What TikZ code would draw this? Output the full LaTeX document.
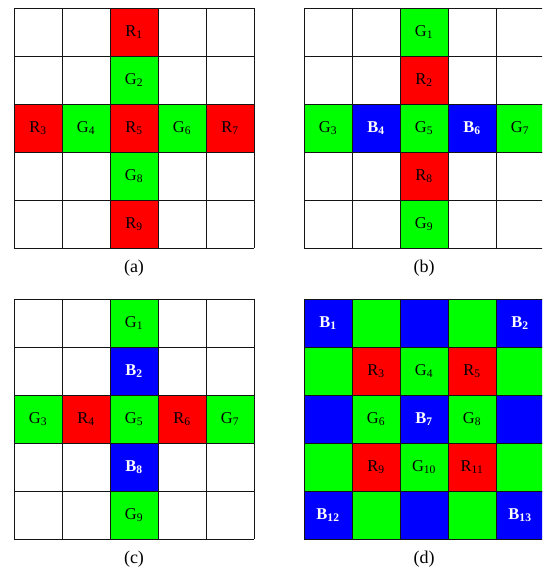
\documentclass[tikz,border=0pt]{standalone}
\usepackage{fontspec}
\setmainfont{Liberation Serif}
\usetikzlibrary{positioning}
\usepackage{xcolor}
\definecolor{pixred}{RGB}{255,0,0}
\definecolor{pixgreen}{RGB}{0,255,0}
\definecolor{pixblue}{RGB}{0,0,255}
\definecolor{lineblack}{RGB}{20,20,20}

% one labelled pixel: grid name, column, row, style, letter, index
\newcommand{\pix}[6]{\node[#4] (#1-#5#6) at ({#2*48+24},{#3*48+24}) {#5\textsubscript{#6}};}
\newcommand{\blankpix}[4]{\node[#4] (#1-#2-#3) at ({#2*48+24},{#3*48+24}) {};}

\begin{document}
\begin{tikzpicture}[
  x=1pt, y=-1pt,
  cell/.style={rectangle, draw=lineblack, minimum size=48pt, inner sep=0pt, line width=1pt, font=\fontsize{16.5}{16.5}\selectfont},
  rcell/.style={cell, fill=pixred},
  gcell/.style={cell, fill=pixgreen},
  bcell/.style={cell, fill=pixblue, text=white, font=\fontsize{16.5}{16.5}\selectfont\bfseries},
  gridline/.style={draw=lineblack, line width=1pt},
  caption/.style={font=\fontsize{18}{18}\selectfont}
]
\useasboundingbox (0,0) rectangle (542,570);
\clip (0,0) rectangle (542,570);

% (a)
\begin{scope}[shift={(14,8)}]
\foreach \k in {0,...,5} {
  \draw[gridline] (\k*48,0) -- (\k*48,240);
  \draw[gridline] (0,\k*48) -- (240,\k*48);
}
\pix{a}{2}{0}{rcell}{R}{1}
\pix{a}{2}{1}{gcell}{G}{2}
\pix{a}{0}{2}{rcell}{R}{3}
\pix{a}{1}{2}{gcell}{G}{4}
\pix{a}{2}{2}{rcell}{R}{5}
\pix{a}{3}{2}{gcell}{G}{6}
\pix{a}{4}{2}{rcell}{R}{7}
\pix{a}{2}{3}{gcell}{G}{8}
\pix{a}{2}{4}{rcell}{R}{9}
\node[caption] (capa) at (120,260) {(a)};
\end{scope}

% (b)
\begin{scope}[shift={(304,8)}]
\foreach \k in {0,...,5} {
  \draw[gridline] (\k*48,0) -- (\k*48,240);
  \draw[gridline] (0,\k*48) -- (240,\k*48);
}
\pix{b}{2}{0}{gcell}{G}{1}
\pix{b}{2}{1}{rcell}{R}{2}
\pix{b}{0}{2}{gcell}{G}{3}
\pix{b}{1}{2}{bcell}{B}{4}
\pix{b}{2}{2}{gcell}{G}{5}
\pix{b}{3}{2}{bcell}{B}{6}
\pix{b}{4}{2}{gcell}{G}{7}
\pix{b}{2}{3}{rcell}{R}{8}
\pix{b}{2}{4}{gcell}{G}{9}
\node[caption] (capb) at (120,260) {(b)};
\end{scope}

% (c)
\begin{scope}[shift={(14,299)}]
\foreach \k in {0,...,5} {
  \draw[gridline] (\k*48,0) -- (\k*48,240);
  \draw[gridline] (0,\k*48) -- (240,\k*48);
}
\pix{c}{2}{0}{gcell}{G}{1}
\pix{c}{2}{1}{bcell}{B}{2}
\pix{c}{0}{2}{gcell}{G}{3}
\pix{c}{1}{2}{rcell}{R}{4}
\pix{c}{2}{2}{gcell}{G}{5}
\pix{c}{3}{2}{rcell}{R}{6}
\pix{c}{4}{2}{gcell}{G}{7}
\pix{c}{2}{3}{bcell}{B}{8}
\pix{c}{2}{4}{gcell}{G}{9}
\node[caption] (capc) at (120,260) {(c)};
\end{scope}

% (d)
\begin{scope}[shift={(304,299)}]
\pix{d}{0}{0}{bcell}{B}{1}
\blankpix{d}{1}{0}{gcell}
\blankpix{d}{2}{0}{bcell}
\blankpix{d}{3}{0}{gcell}
\pix{d}{4}{0}{bcell}{B}{2}
\blankpix{d}{0}{1}{gcell}
\pix{d}{1}{1}{rcell}{R}{3}
\pix{d}{2}{1}{gcell}{G}{4}
\pix{d}{3}{1}{rcell}{R}{5}
\blankpix{d}{4}{1}{gcell}
\blankpix{d}{0}{2}{bcell}
\pix{d}{1}{2}{gcell}{G}{6}
\pix{d}{2}{2}{bcell}{B}{7}
\pix{d}{3}{2}{gcell}{G}{8}
\blankpix{d}{4}{2}{bcell}
\blankpix{d}{0}{3}{gcell}
\pix{d}{1}{3}{rcell}{R}{9}
\pix{d}{2}{3}{gcell}{G}{10}
\pix{d}{3}{3}{rcell}{R}{11}
\blankpix{d}{4}{3}{gcell}
\pix{d}{0}{4}{bcell}{B}{12}
\blankpix{d}{1}{4}{gcell}
\blankpix{d}{2}{4}{bcell}
\blankpix{d}{3}{4}{gcell}
\pix{d}{4}{4}{bcell}{B}{13}
\node[caption] (capd) at (120,260) {(d)};
\end{scope}
\end{tikzpicture}
\end{document}
